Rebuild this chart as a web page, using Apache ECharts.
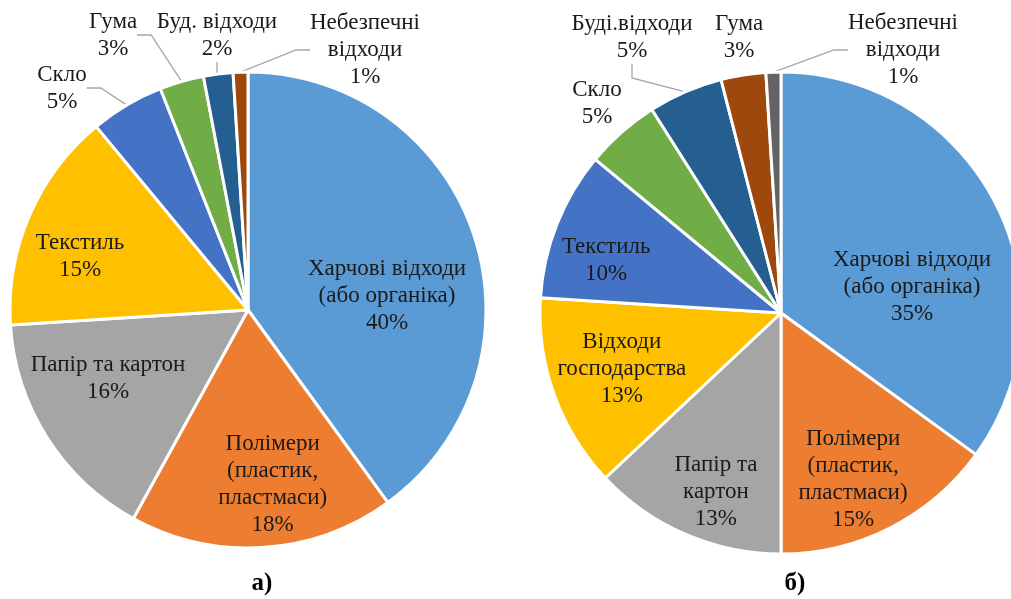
<!DOCTYPE html>
<html>
<head>
<meta charset="utf-8">
<script src="https://cdn.jsdelivr.net/npm/echarts@6/dist/echarts.min.js"></script>
<style>
  html, body { margin: 0; padding: 0; background: #fff; }
  #chart { width: 1011px; height: 599px; }
</style>
</head>
<body>
<div id="chart"></div>
<script>
// а) categories and shares, %
const namesA = [
  'Харчові відходи\n(або органіка)',
  'Полімери\n(пластик,\nпластмаси)',
  'Папір та картон',
  'Текстиль',
  'Скло',
  'Гума',
  'Буд. відходи',
  'Небезпечні\nвідходи'
];
const valuesA = [40, 18, 16, 15, 5, 3, 2, 1];

// б) categories and shares, %
const namesB = [
  'Харчові відходи\n(або органіка)',
  'Полімери\n(пластик,\nпластмаси)',
  'Папір та\nкартон',
  'Відходи\nгосподарства',
  'Текстиль',
  'Скло',
  'Буді.відходи',
  'Гума',
  'Небезпечні\nвідходи'
];
const valuesB = [35, 15, 13, 13, 10, 5, 5, 3, 1];

const colorsA = ['#5B9BD5', '#ED7D31', '#A5A5A5', '#FFC000', '#4472C4', '#70AD47', '#255E91', '#9E480E'];
const colorsB = ['#5B9BD5', '#ED7D31', '#A5A5A5', '#FFC000', '#4472C4', '#70AD47', '#255E91', '#9E480E', '#636363'];

// label tweaks (pure styling)
const nudgeA = [[23, 24], [17, 53], [-37, 3], [-56, -5]];
const outsideA = { 4: [62, 88], 5: [113, 35], 6: [217, 35], 7: [365, 50] };
const noLineA = {};
const nudgeB = [[21, 30], [16, 56], [-16, 66], [-43, 14], [-60, -7]];
const outsideB = { 5: [597, 103], 6: [632, 37], 7: [739, 37], 8: [903, 50] };
const noLineB = { 5: true, 7: true };

const font = '"Liberation Serif", "Times New Roman", serif';

function buildData(names, values, colors, outside, noLine) {
  return names.map((n, i) => {
    const item = { name: n, value: values[i], itemStyle: { color: colors[i] } };
    if (outside[i]) {
      item.label = { position: 'outside' };
      item.labelLine = { show: !noLine[i] };
    }
    return item;
  });
}

function makeLayout(nudge, outside) {
  return function (p) {
    const i = p.dataIndex;
    if (outside[i]) {
      return { x: outside[i][0], y: outside[i][1], align: 'center', verticalAlign: 'middle' };
    }
    const s = nudge[i] || [0, 0];
    return {
      x: p.labelRect.x + p.labelRect.width / 2 + s[0],
      y: p.labelRect.y + p.labelRect.height / 2 + s[1],
      align: 'center',
      verticalAlign: 'middle'
    };
  };
}

function pieSeries(center, radius, data, layoutFn) {
  return {
    type: 'pie',
    center: center,
    radius: radius,
    startAngle: 90,
    clockwise: true,
    avoidLabelOverlap: false,
    animation: false,
    itemStyle: { borderColor: '#fff', borderWidth: 3 },
    label: {
      show: true,
      position: 'inside',
      formatter: '{b}\n{c}%',
      fontFamily: font,
      fontSize: 23,
      lineHeight: 27,
      color: '#1a1a1a',
      align: 'center'
    },
    labelLine: {
      show: true,
      length: 8,
      length2: 14,
      smooth: false,
      lineStyle: { color: '#a6a6a6', width: 1.3 }
    },
    emphasis: { disabled: true },
    labelLayout: layoutFn,
    data: data
  };
}

const chart = echarts.init(document.getElementById('chart'));
chart.setOption({
  backgroundColor: '#fff',
  series: [
    pieSeries([248, 310], 238, buildData(namesA, valuesA, colorsA, outsideA, noLineA), makeLayout(nudgeA, outsideA)),
    pieSeries([781, 313], 241, buildData(namesB, valuesB, colorsB, outsideB, noLineB), makeLayout(nudgeB, outsideB))
  ],
  graphic: [
    { type: 'text', x: 262, y: 584, style: { text: 'а)', fontFamily: font, fontWeight: 'bold', fontSize: 25, fill: '#000', textAlign: 'center', textVerticalAlign: 'middle' } },
    { type: 'text', x: 795, y: 584, style: { text: 'б)', fontFamily: font, fontWeight: 'bold', fontSize: 25, fill: '#000', textAlign: 'center', textVerticalAlign: 'middle' } }
  ]
});
window.addEventListener('resize', () => chart.resize());
</script>
</body>
</html>
